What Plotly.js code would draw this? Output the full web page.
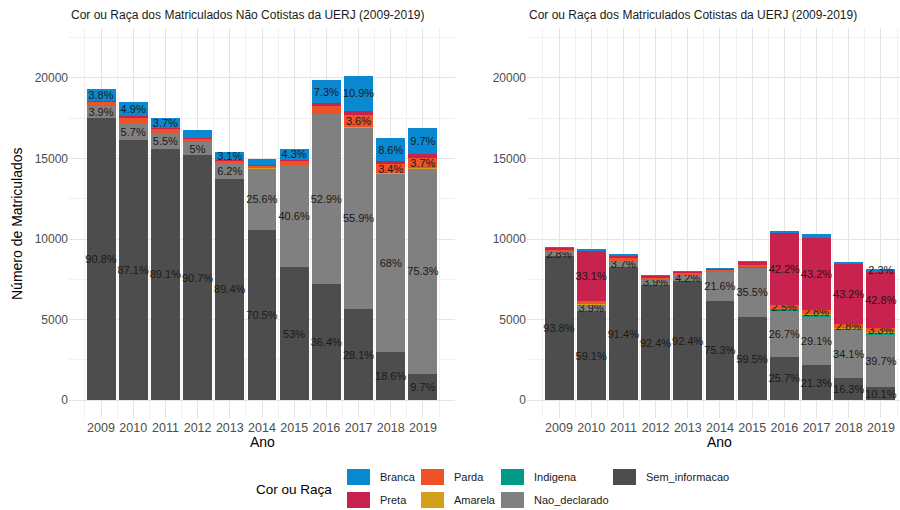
<!DOCTYPE html>
<html>
<head>
<meta charset="utf-8">
<script src="https://cdn.plot.ly/plotly-3.0.1.min.js"></script>
<style>html,body{margin:0;padding:0;background:#fff;}#chart{width:900px;height:510px;}</style>
</head>
<body>
<div id="chart"></div>
<script>
// ---------- DATA ----------
const years = [2009, 2010, 2011, 2012, 2013, 2014, 2015, 2016, 2017, 2018, 2019];
const yearLabels = ['2009','2010','2011','2012','2013','2014','2015','2016','2017','2018','2019'];
const categories = ['Sem_informacao', 'Nao_declarado', 'Indigena', 'Amarela', 'Parda', 'Preta', 'Branca'];
const legendRow1 = ['Branca', 'Parda', 'Indigena', 'Sem_informacao'];
const legendRow2 = ['Preta', 'Amarela', 'Nao_declarado'];

// Não Cotistas (estimated counts)
const nc_Sem_informacao = [17515, 16131, 15619, 15201, 13759, 10547, 8268, 7229, 5657, 3021, 1639];
const nc_Nao_declarado  = [752, 1056, 964, 838, 954, 3830, 6334, 10506, 11253, 11043, 12726];
const nc_Indigena       = [5, 4, 4, 3, 3, 3, 4, 8, 8, 6, 7];
const nc_Amarela        = [19, 19, 18, 8, 15, 15, 16, 20, 40, 32, 34];
const nc_Parda          = [193, 315, 210, 168, 139, 135, 234, 497, 725, 552, 625];
const nc_Preta          = [77, 93, 70, 50, 46, 60, 78, 159, 262, 195, 237];
const nc_Branca         = [733, 907, 649, 503, 477, 374, 671, 1450, 2194, 1397, 1639];

const ncLbl_Sem_informacao = ['90.8%','87.1%','89.1%','90.7%','89.4%','70.5%','53%','36.4%','28.1%','18.6%','9.7%'];
const ncLbl_Nao_declarado  = ['3.9%','5.7%','5.5%','5%','6.2%','25.6%','40.6%','52.9%','55.9%','68%','75.3%'];
const ncLbl_Indigena       = ['','','','','','','','','','',''];
const ncLbl_Amarela        = ['','','','','','','','','','',''];
const ncLbl_Parda          = ['','','','','','','','','3.6%','3.4%','3.7%'];
const ncLbl_Preta          = ['','','','','','','','','','',''];
const ncLbl_Branca         = ['3.8%','4.9%','3.7%','','3.1%','','4.3%','7.3%','10.9%','8.6%','9.7%'];

// Cotistas (estimated counts)
const c_Sem_informacao = [8925, 5549, 8278, 7163, 7415, 6182, 5156, 2706, 2194, 1402, 823];
const c_Nao_declarado  = [266, 366, 335, 302, 337, 1773, 3076, 2811, 2997, 2933, 3236];
const c_Indigena       = [10, 19, 18, 8, 8, 8, 9, 126, 113, 103, 106];
const c_Amarela        = [10, 28, 18, 16, 8, 8, 17, 32, 31, 34, 41];
const c_Parda          = [95, 216, 172, 101, 104, 99, 165, 263, 288, 241, 269];
const c_Preta          = [114, 3108, 136, 93, 88, 82, 147, 4443, 4450, 3715, 3488];
const c_Branca         = [95, 103, 100, 70, 64, 57, 95, 147, 227, 172, 187];

const cLbl_Sem_informacao = ['93.8%','59.1%','91.4%','92.4%','92.4%','75.3%','59.5%','25.7%','21.3%','16.3%','10.1%'];
const cLbl_Nao_declarado  = ['2.8%','3.9%','3.7%','3.9%','4.2%','21.6%','35.5%','26.7%','29.1%','34.1%','39.7%'];
const cLbl_Indigena       = ['','','','','','','','','','',''];
const cLbl_Amarela        = ['','','','','','','','','','',''];
const cLbl_Parda          = ['','','','','','','','2.5%','2.8%','2.8%','3.3%'];
const cLbl_Preta          = ['','33.1%','','','','','','42.2%','43.2%','43.2%','42.8%'];
const cLbl_Branca         = ['','','','','','','','','','','2.3%'];

const colors = {
  Branca: '#0A89D0', Preta: '#C8224F', Parda: '#EE5226', Amarela: '#D4A01C',
  Indigena: '#009B86', Nao_declarado: '#808080', Sem_informacao: '#4D4D4D'
};

// ---------- BUILD ----------
const ncData = {Sem_informacao: nc_Sem_informacao, Nao_declarado: nc_Nao_declarado, Indigena: nc_Indigena,
  Amarela: nc_Amarela, Parda: nc_Parda, Preta: nc_Preta, Branca: nc_Branca};
const ncLbl = {Sem_informacao: ncLbl_Sem_informacao, Nao_declarado: ncLbl_Nao_declarado, Indigena: ncLbl_Indigena,
  Amarela: ncLbl_Amarela, Parda: ncLbl_Parda, Preta: ncLbl_Preta, Branca: ncLbl_Branca};
const cData = {Sem_informacao: c_Sem_informacao, Nao_declarado: c_Nao_declarado, Indigena: c_Indigena,
  Amarela: c_Amarela, Parda: c_Parda, Preta: c_Preta, Branca: c_Branca};
const cLbl = {Sem_informacao: cLbl_Sem_informacao, Nao_declarado: cLbl_Nao_declarado, Indigena: cLbl_Indigena,
  Amarela: cLbl_Amarela, Parda: cLbl_Parda, Preta: cLbl_Preta, Branca: cLbl_Branca};

const FONT = 'Liberation Sans, Arial, sans-serif';
const traces = [];
function addPanel(data, lbl, xa, ya) {
  categories.forEach(cat => {
    traces.push({
      type: 'bar', x: years, y: data[cat], name: cat, xaxis: xa, yaxis: ya,
      marker: {color: colors[cat], line: {width: 0}},
      text: lbl[cat], textposition: 'inside', insidetextanchor: 'middle',
      constraintext: 'none', textangle: 0, cliponaxis: false,
      textfont: {family: FONT, size: 11, color: '#1a1a1a'},
      showlegend: false, hoverinfo: 'x+y+name'
    });
  });
}
addPanel(ncData, ncLbl, 'x', 'y');
addPanel(cData, cLbl, 'x2', 'y2');

// pixel helpers (plot area: left 69, right 900, top 28, bottom 418)
const PL = 69, PW = 831, PT = 28, PH = 390;
const px = p => (p - PL) / PW;
const py = p => (PT + PH - p) / PH;

const gridMajor = '#e4e4e4', gridMinor = '#f1f1f1';
function xAxis(domain, range) {
  return {
    domain: domain, range: range, tickmode: 'array', tickvals: years, ticktext: yearLabels,
    showgrid: true, gridcolor: gridMajor, gridwidth: 1, zeroline: false, showline: false, ticks: '',
    tickfont: {family: FONT, size: 12.5, color: '#4D4D4D'},
    minor: {tick0: 2008.5, dtick: 1, showgrid: true, gridcolor: gridMinor, gridwidth: 1, ticks: ''},
    fixedrange: true
  };
}
function yAxis(anchor) {
  return {
    anchor: anchor, range: [-1100, 23100], tickmode: 'array', tickvals: [0, 5000, 10000, 15000, 20000],
    ticktext: ['0','5000','10000','15000','20000'],
    showgrid: true, gridcolor: gridMajor, gridwidth: 1, zeroline: false, showline: false, ticks: '',
    tickfont: {family: FONT, size: 12, color: '#4D4D4D'},
    minor: {tick0: 2500, dtick: 5000, showgrid: true, gridcolor: gridMinor, gridwidth: 1, ticks: ''},
    fixedrange: true
  };
}

const layout = {
  width: 900, height: 510,
  margin: {l: PL, r: 0, t: PT, b: 510 - PT - PH, pad: 0},
  paper_bgcolor: '#ffffff', plot_bgcolor: '#ffffff',
  barmode: 'stack', bargap: 0.1,
  font: {family: FONT},
  showlegend: false,
  xaxis: xAxis([0, px(455)], [2008.005, 2019.995]),
  xaxis2: Object.assign(xAxis([px(527), 1], [2008.005, 2019.592]), {anchor: 'y2'}),
  yaxis: yAxis('x'),
  yaxis2: yAxis('x2'),
  shapes: [],
  annotations: [
    {text: 'Cor ou Raça dos Matriculados Não Cotistas da UERJ (2009-2019)', xref: 'paper', yref: 'paper',
     x: px(69), y: py(15), xanchor: 'left', yanchor: 'middle', showarrow: false,
     font: {family: FONT, size: 12, color: '#1a1a1a'}},
    {text: 'Cor ou Raça dos Matriculados Cotistas da UERJ (2009-2019)', xref: 'paper', yref: 'paper',
     x: px(527), y: py(15), xanchor: 'left', yanchor: 'middle', showarrow: false,
     font: {family: FONT, size: 12, color: '#1a1a1a'}},
    {text: 'Ano', xref: 'paper', yref: 'paper', x: px(262), y: py(442), xanchor: 'center', yanchor: 'middle',
     showarrow: false, font: {family: FONT, size: 14, color: '#000'}},
    {text: 'Ano', xref: 'paper', yref: 'paper', x: px(719), y: py(442), xanchor: 'center', yanchor: 'middle',
     showarrow: false, font: {family: FONT, size: 14, color: '#000'}},
    {text: 'Número de Matriculados', xref: 'paper', yref: 'paper', x: px(17), y: py(223), xanchor: 'center',
     yanchor: 'middle', textangle: -90, showarrow: false, font: {family: FONT, size: 14, color: '#000'}},
    {text: 'Cor ou Raça', xref: 'paper', yref: 'paper', x: px(254), y: py(489), xanchor: 'left', yanchor: 'middle',
     showarrow: false, font: {family: FONT, size: 13.5, color: '#000'}}
  ]
};

// manual legend (two rows, column-major like the original)
const colX = [347, 421, 501, 613];
const rowY = [469, 492];
[legendRow1, legendRow2].forEach((row, r) => {
  row.forEach((cat, c) => {
    layout.shapes.push({type: 'rect', xref: 'paper', yref: 'paper',
      x0: px(colX[c]), x1: px(colX[c] + 23), y0: py(rowY[r]), y1: py(rowY[r] + 16),
      fillcolor: colors[cat], line: {width: 0}});
    layout.annotations.push({text: cat, xref: 'paper', yref: 'paper', x: px(colX[c] + 31), y: py(rowY[r] + 8),
      xanchor: 'left', yanchor: 'middle', showarrow: false, font: {family: FONT, size: 11, color: '#1a1a1a'}});
  });
});

Plotly.newPlot('chart', traces, layout, {displayModeBar: false, staticPlot: true});
</script>
</body>
</html>
